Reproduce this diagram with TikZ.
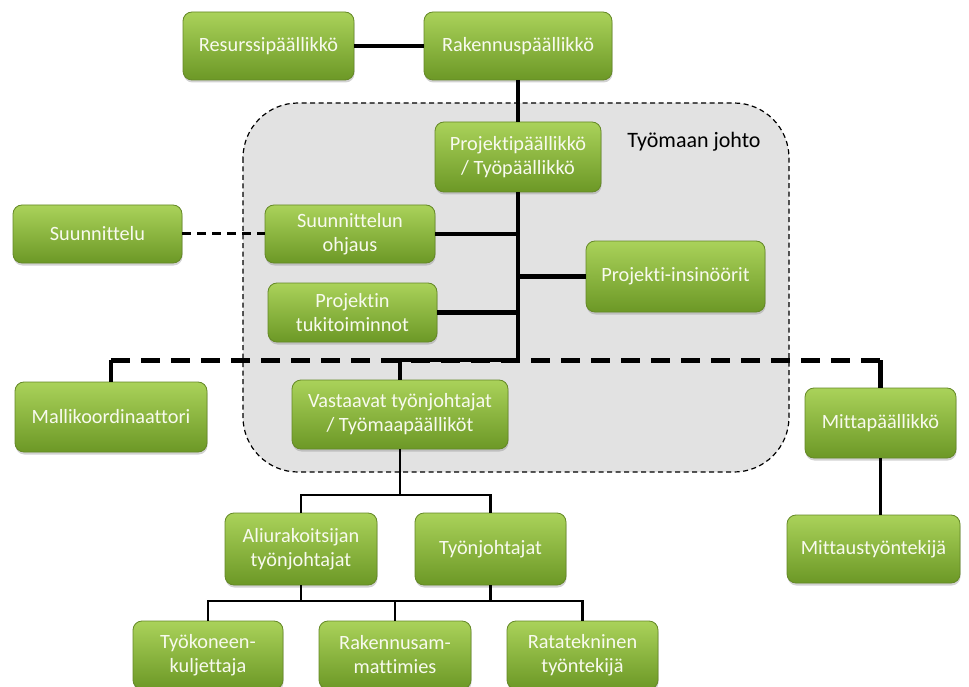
\documentclass[tikz,border=0pt]{standalone}
\usepackage{fontspec}
\setmainfont{Carlito}[Ligatures={NoCommon}]
\usetikzlibrary{shadows}
\definecolor{boxtop}{RGB}{170,210,90}
\definecolor{boxbot}{RGB}{108,152,38}
\definecolor{boxedge}{RGB}{100,136,38}
\definecolor{boxtext}{RGB}{248,250,238}
\definecolor{zonefill}{RGB}{226,226,226}
\begin{document}
\begin{tikzpicture}[x=1pt,y=-1pt,
  orgbox/.style={rectangle, rounded corners=9pt, draw=boxedge, line width=0.8pt,
    top color=boxtop, bottom color=boxbot, text=boxtext, align=center, inner sep=0pt,
    font=\fontsize{20.3}{24}\selectfont,
    drop shadow={shadow xshift=0.5pt, shadow yshift=-2.5pt, opacity=0.35}},
  heavy/.style={line width=4.8pt, black},
  light/.style={line width=2.6pt, black},
  busdash/.style={line width=5pt, black, dash pattern=on 19pt off 11pt},
  linkdash/.style={line width=3pt, black, dash pattern=on 9pt off 6pt},
  zone/.style={draw=black, fill=zonefill, line width=1.2pt,
    dash pattern=on 5pt off 3.5pt, rounded corners=55pt}]
\useasboundingbox (0,0) rectangle (969,687);
\fill[white] (0,0) rectangle (969,687);

% site management zone
\draw[zone] (243,103) rectangle (789,472);
\node[font=\fontsize{22}{26}\selectfont, text=black] (zlabel) at (694,142) {Työmaan johto};

% top level
\node[orgbox, minimum width=171pt, minimum height=68pt] (resurssi) at (268.5,46) {Resurssipäällikkö};
\node[orgbox, minimum width=188pt, minimum height=68pt] (rakennus) at (518,46) {Rakennuspäällikkö};

% inside the zone
\node[orgbox, minimum width=166pt, minimum height=70pt] (projekti) at (518,157) {Projektipäällikkö\\/ Työpäällikkö};
\node[orgbox, minimum width=170pt, minimum height=58pt] (sohjaus) at (350,234) {Suunnittelun\\ohjaus};
\node[orgbox, minimum width=169pt, minimum height=59pt] (tuki) at (352.5,312.5) {Projektin\\tukitoiminnot};
\node[orgbox, minimum width=179pt, minimum height=71pt] (insin) at (675.5,276.5) {Projekti-insinöörit};
\node[orgbox, minimum width=216pt, minimum height=69pt] (vastaavat) at (400,414.5) {Vastaavat työnjohtajat\\/ Työmaapäälliköt};

% outside the zone
\node[orgbox, minimum width=169pt, minimum height=58pt] (suun) at (97.5,234) {Suunnittelu};
\node[orgbox, minimum width=192pt, minimum height=70pt] (malli) at (111,417) {Mallikoordinaattori};
\node[orgbox, minimum width=151pt, minimum height=70pt] (mitta) at (880.5,423) {Mittapäällikkö};
\node[orgbox, minimum width=173pt, minimum height=68pt] (mittaus) at (873.5,549) {Mittaustyöntekijä};

% foremen
\node[orgbox, minimum width=152pt, minimum height=72pt] (ali) at (301,549) {Aliurakoitsijan\\työnjohtajat};
\node[orgbox, minimum width=151pt, minimum height=72pt] (tyon) at (490.5,549) {Työnjohtajat};

% workers
\node[orgbox, minimum width=150pt, minimum height=68pt] (kone) at (208,655) {Työkoneen-\\kuljettaja};
\node[orgbox, minimum width=152pt, minimum height=68pt] (ram) at (395,655) {Rakennusam-\\mattimies};
\node[orgbox, minimum width=151pt, minimum height=68pt] (rata) at (582.5,655) {Ratatekninen\\työntekijä};

% junction points
\coordinate (bus) at (518,360);
\coordinate (fork1) at (400,495);
\coordinate (fork2) at (400,601);

% upper connectors
\draw[heavy] (resurssi.east) -- (rakennus.west);
\draw[heavy] (rakennus.south) -- (projekti.north);
\draw[linkdash] (suun.east) -- (sohjaus.west);
\draw[busdash] (malli.north |- bus) -- (mitta.north |- bus);
\draw[heavy] (malli.north) -- (malli.north |- bus);
\draw[heavy] (mitta.north) -- (mitta.north |- bus);
\draw[heavy] (projekti.south) -- (bus) -| (vastaavat.north);
\draw[heavy] (sohjaus.east) -- (sohjaus.east -| bus);
\draw[heavy] (tuki.east) -- (tuki.east -| bus);
\draw[heavy] (insin.west) -- (insin.west -| bus);

% lower connectors
\draw[light] (vastaavat.south) -- (vastaavat.south |- fork1);
\draw[light] (ali.north) -- (ali.north |- fork1) -- (tyon.north |- fork1) -- (tyon.north);
\draw[light] (ali.south) -- (ali.south |- fork2);
\draw[light] (tyon.south) -- (tyon.south |- fork2);
\draw[light] (kone.north) -- (kone.north |- fork2) -- (rata.north |- fork2) -- (rata.north);
\draw[light] (ram.north) -- (ram.north |- fork2);
\draw[light] (mitta.south) -- (mittaus.north -| mitta.south);
\end{tikzpicture}
\end{document}
